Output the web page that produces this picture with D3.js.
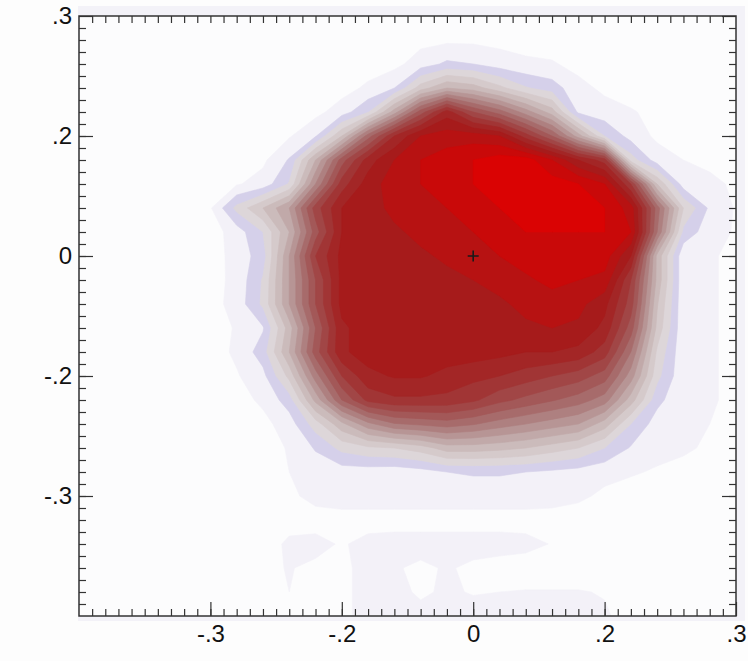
<!DOCTYPE html>
<html lang="en">
<head>
<meta charset="UTF-8">
<title>Density contours</title>
<style>
  body { margin: 0; background: #fdfdfd; }
  svg { display: block; }
</style>
</head>
<body>
<script src="https://d3js.org/d3.v7.min.js"></script>
<script>
const width = 748, height = 661;
const plotL = 79, plotR = 736, plotT = 16, plotB = 616;

// axis ticks (labels as printed on the chart)
const xTicks = [-0.4, -0.2, 0, 0.2, 0.4];
const xTickLabels = ["-.3", "-.2", "0", ".2", ".3"];
const yTicks = [-0.4, -0.2, 0, 0.2, 0.4];
const yTickLabels = ["-.3", "-.2", "0", ".2", ".3"];

// density level grid: rows from y = 0.4 down to y = -0.6, columns x = -0.6 .. 0.4
const gridStep = 0.04;
const density = [
  [0,0,0,0,0,0,0,0,0,0,0,0,0,0,0,0,0,0,0,0,0,0,0,0,0,0],
  [0,0,0,0,0,0,0,0,0,0,0,0,0,0.2,0.3,0.3,0.2,0.1,0,0,0,0,0,0,0,0],
  [0,0,0,0,0,0,0,0,0,0,0,0,0.2,1.0,1.7,1.5,1.0,0.7,0.6,0.2,0,0,0,0,0,0],
  [0,0,0,0,0,0,0,0,0,0,0.1,0.7,1.5,4,5.5,5,3.8,2.6,2.0,0.8,0.3,0,0,0,0,0],
  [0,0,0,0,0,0,0,0,0,0.2,1.0,2.4,6,10,13,10.5,9,7,5,1.3,0.9,0.6,0.2,0,0,0],
  [0,0,0,0,0,0,0,0,0.4,1.4,4.5,9,12.5,14.5,15,15,14.5,12,9.5,6,2.5,1.1,0.3,0,0,0],
  [0,0,0,0,0,0,0,0.3,1.6,5.5,10,13,14.5,15.5,16,16.5,17,17,15.5,13.5,12,3.0,1.0,0.5,0.2,0],
  [0,0,0,0,0,0,0.4,0.9,2.6,7.5,12,14,15,15.5,16,16.5,17,17,17,16.5,15.5,11.5,4.5,1.0,0.8,0.3],
  [0,0,0,0,0,0.4,2.8,4.5,6.5,11,13.5,14,14.8,15.2,15.5,16,16.5,17,17,17,16.5,15,9,3.5,1.3,0.4],
  [0,0,0,0,0,0,1.0,2.5,5.5,10,13.5,14,14.3,14.8,15.2,15.5,16,16.5,16.5,16.5,16.5,15.5,8.5,2.2,0.9,0.4],
  [0,0,0,0,0,0,0.9,2.0,6.5,11.5,13.8,14,14,14.3,14.7,15.2,15.5,16,16,16,16,13.5,5.2,0.7,0.6,0.3],
  [0,0,0,0,0,0.1,0.8,2.6,6.5,10.5,13.8,14,14,14,14.2,14.5,14.9,15.3,15.8,15.5,15.2,11.5,5.2,0.7,0.6,0.3],
  [0,0,0,0,0,0.1,0.9,2.7,6.5,10.5,13.8,14,14,14,14,14,14.3,14.8,15,14.8,13.8,11,4.6,0.7,0.6,0.3],
  [0,0,0,0,0,0,0.6,1.4,5,9.5,13.3,14,14,14,14,14,14,14.3,14.5,14.3,13.2,10,4.2,0.7,0.6,0.3],
  [0,0,0,0,0,0,0.7,2.0,5.5,10,13.3,14,14,14,14,14,13.8,13.5,13.5,13.2,12,8.5,3.3,0.7,0.6,0.3],
  [0,0,0,0,0,0,0.4,1.2,3.8,8,11.5,13.2,13.6,13.6,13.2,12.8,12.5,12,11.5,11,10,7,2.8,0.7,0.6,0.3],
  [0,0,0,0,0,0,0.1,0.7,2.0,5.8,9.5,11.8,12.3,12.3,12.2,11.7,10.8,10.2,9.6,9,8,5,1.8,0.7,0.6,0.3],
  [0,0,0,0,0,0,0,0.2,1.0,3.0,5.2,7.2,8.4,8.7,9,8.6,8,7.5,7,6.5,5,2.5,1.0,0.7,0.5,0.3],
  [0,0,0,0,0,0,0,0,0.6,1.6,2.8,3.3,3.5,4,5,5,4.8,4.5,4,3.5,2.5,1.4,0.8,0.6,0.4,0.2],
  [0,0,0,0,0,0,0,0,0.5,0.9,1.0,1.0,0.9,1.1,1.5,1.6,1.6,1.5,1.3,1.1,0.8,0.6,0.4,0.3,0.2,0.1],
  [0,0,0,0,0,0,0,0,0.3,0.8,1.0,1.0,1.0,1.0,1.0,1.0,1.0,1.0,0.9,0.7,0.3,0.1,0,0,0,0],
  [0,0,0,0,0,0,0,0,0.1,0.1,0.1,0.1,0.1,0.1,0.1,0.1,0.1,0.1,0.1,0,0,0,0,0,0,0],
  [0,0,0,0,0,0,0,0,0.7,0.8,0.4,0.8,0.9,0.9,0.9,0.9,0.9,0.8,0.45,0,0,0,0,0,0,0],
  [0,0,0,0,0,0,0,0.3,0.55,0.3,0.3,0.8,0.6,0.3,0.6,0.3,0.1,0,0,0,0,0,0,0,0,0],
  [0,0,0,0,0,0,0,0.2,0.5,0.2,0.3,0.8,0.7,0.4,0.6,0.45,0.5,0.55,0.55,0.55,0.45,0,0,0,0,0],
  [0,0,0,0,0,0,0,0,0,0,0.3,0.8,0.8,0.7,0.8,0.8,0.8,0.8,0.8,0.8,0.6,0.2,0,0,0,0]
];

const levels = [0.5, 1.5, 2.5, 3.5, 4.5, 5.5, 6.5, 7.5, 8.5, 9.5, 10.5, 11.5, 12.5, 13.5, 14.5, 15.5, 16.5];
const levelColors = ["#f3f1f8", "#d5d0ea", "#ddd6d9", "#d5cacb", "#cbbbbb", "#c1a9a9", "#b79595",
  "#ae8080", "#a76b6b", "#a35858", "#a14646", "#a13535", "#a32626", "#a61b1b", "#b71212", "#c90909", "#da0303"];

const x = d3.scaleLinear().domain([-0.6, 0.4]).range([plotL, plotR]);
const y = d3.scaleLinear().domain([-0.6, 0.4]).range([plotB, plotT]);

const svg = d3.select("body").append("svg")
  .attr("width", width)
  .attr("height", height);

svg.append("defs").append("clipPath").attr("id", "plot-clip")
  .append("rect")
  .attr("x", plotL).attr("y", plotT)
  .attr("width", plotR - plotL).attr("height", plotB - plotT);

// pale backdrop of the plot image, a little larger than the frame
svg.append("rect")
  .attr("x", plotL - 1).attr("y", plotT - 10)
  .attr("width", plotR - plotL + 10).attr("height", plotB - plotT + 15)
  .attr("fill", "#f3f2f8");
svg.append("rect")
  .attr("x", plotL).attr("y", plotT)
  .attr("width", plotR - plotL).attr("height", plotB - plotT)
  .attr("fill", "#fcfcfd");

// filled contours
const nx = density[0].length, ny = density.length;
const bands = d3.contours().size([nx, ny]).thresholds(levels)(density.flat());
const proj = d3.geoTransform({
  point: function(u, v) {
    this.stream.point(x(-0.6 + (u - 0.5) * gridStep), y(0.4 - (v - 0.5) * gridStep));
  }
});
const path = d3.geoPath(proj);

svg.append("g")
  .attr("clip-path", "url(#plot-clip)")
  .selectAll("path")
  .data(bands)
  .enter()
  .append("path")
  .attr("d", path)
  .attr("fill", (d, i) => levelColors[i])
  .attr("stroke", (d, i) => levelColors[i])
  .attr("stroke-width", 0.6);

// centre marker
svg.append("path")
  .attr("transform", "translate(" + x(0) + "," + y(0) + ")")
  .attr("d", "M-5.5,0H5.5M0,-5.5V5.5")
  .attr("stroke", "#1a1a1a")
  .attr("stroke-width", 1.6)
  .attr("fill", "none");

// axes, ticks pointing inward
const minorX = d3.range(-0.58, 0.39, 0.02);
const minorY = d3.range(-0.58, 0.39, 0.02);

function styleAxis(g) {
  g.select(".domain").remove();
  g.selectAll("line").attr("stroke", "#333").attr("stroke-width", 1.2);
  g.selectAll("text")
    .attr("fill", "#111")
    .style("font-family", "'Liberation Sans', Arial, Helvetica, sans-serif")
    .style("font-size", "24px");
}

svg.append("g").attr("transform", "translate(0," + plotB + ")")
  .call(d3.axisBottom(x).tickValues(minorX).tickFormat("").tickSize(-7))
  .call(styleAxis);
svg.append("g").attr("transform", "translate(0," + plotB + ")")
  .call(d3.axisBottom(x).tickValues(xTicks).tickFormat((d, i) => xTickLabels[i]).tickSize(-14).tickPadding(9))
  .call(styleAxis);

svg.append("g").attr("transform", "translate(" + plotL + ",0)")
  .call(d3.axisLeft(y).tickValues(minorY).tickFormat("").tickSize(-7))
  .call(styleAxis);
svg.append("g").attr("transform", "translate(" + plotL + ",0)")
  .call(d3.axisLeft(y).tickValues(yTicks).tickFormat((d, i) => yTickLabels[i]).tickSize(-14).tickPadding(7))
  .call(styleAxis);

svg.append("g").attr("transform", "translate(0," + plotT + ")")
  .call(d3.axisTop(x).tickValues(minorX).tickFormat("").tickSize(-7))
  .call(styleAxis);

svg.append("g").attr("transform", "translate(" + plotR + ",0)")
  .call(d3.axisRight(y).tickValues(minorY).tickFormat("").tickSize(-7))
  .call(styleAxis);
svg.append("g").attr("transform", "translate(" + plotR + ",0)")
  .call(d3.axisRight(y).tickValues(yTicks).tickFormat("").tickSize(-14))
  .call(styleAxis);

// frame
svg.append("rect")
  .attr("x", plotL).attr("y", plotT)
  .attr("width", plotR - plotL).attr("height", plotB - plotT)
  .attr("fill", "none")
  .attr("stroke", "#333")
  .attr("stroke-width", 1.5);
</script>
</body>
</html>
